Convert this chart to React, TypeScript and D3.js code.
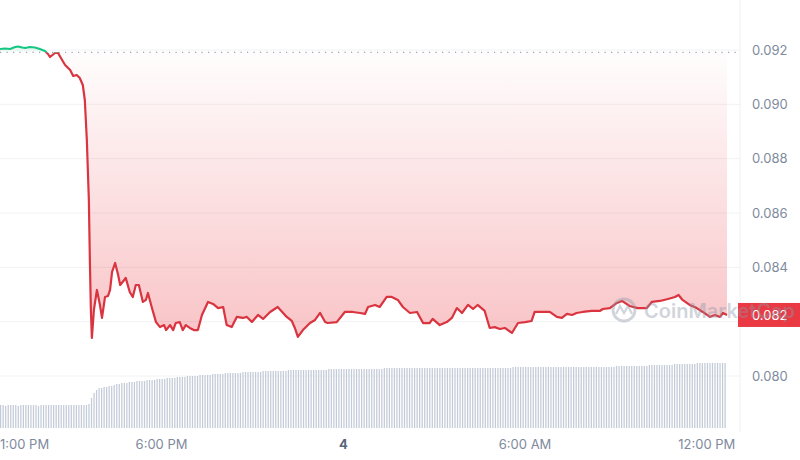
import React from "react";
import * as d3 from "d3";

// price points: [minutes since start, price]
const pricePoints: [number, number][] = [
  [0, 0.092037], [10, 0.092055], [20, 0.092037], [30, 0.09211], [36, 0.092129], [44, 0.092092],
  [50, 0.092074], [59, 0.09211], [69, 0.092092], [79, 0.092037], [89, 0.091963], [95, 0.091853],
  [99, 0.091742], [109, 0.09189], [115, 0.09189], [123, 0.091632], [129, 0.091448], [139, 0.091264],
  [145, 0.091043], [152, 0.09108], [158, 0.090969], [164, 0.090712], [168, 0.09016], [172, 0.088688],
  [176, 0.086479], [178, 0.084271], [180, 0.082431], [182, 0.0814], [186, 0.082431], [192, 0.083167],
  [198, 0.082615], [202, 0.082137], [208, 0.082909], [214, 0.082946], [218, 0.083167], [222, 0.08383],
  [228, 0.08416], [234, 0.08372], [238, 0.08335], [246, 0.083535], [249, 0.08361], [257, 0.083094],
  [263, 0.082909], [269, 0.08335], [275, 0.08335], [283, 0.082726], [289, 0.0828], [293, 0.083056],
  [301, 0.0825], [309, 0.081985], [317, 0.0818], [325, 0.081875], [329, 0.08169], [337, 0.081875],
  [343, 0.08169], [348, 0.08195], [356, 0.081985], [362, 0.08169], [368, 0.081875], [376, 0.081768],
  [384, 0.08169], [392, 0.08169], [400, 0.082247], [412, 0.082726], [422, 0.082652], [432, 0.0825],
  [442, 0.08254], [449, 0.081875], [459, 0.0818], [469, 0.082174], [481, 0.082137], [489, 0.082174],
  [499, 0.081985], [511, 0.082247], [521, 0.0821], [535, 0.082357], [550, 0.08254], [568, 0.082174],
  [578, 0.082026], [584, 0.081768], [590, 0.081437], [600, 0.08169], [614, 0.08195], [624, 0.082063],
  [634, 0.08232], [644, 0.081985], [649, 0.08195], [667, 0.081985], [683, 0.082357], [699, 0.082357],
  [713, 0.08232], [723, 0.082284], [729, 0.08254], [743, 0.082615], [752, 0.08254], [766, 0.082909],
  [776, 0.082909], [788, 0.0828], [798, 0.08254], [812, 0.08232], [826, 0.082357], [838, 0.08195],
  [851, 0.08195], [857, 0.0821], [871, 0.081875], [885, 0.081985], [895, 0.082137], [905, 0.0825],
  [915, 0.08232], [927, 0.082615], [937, 0.082467], [946, 0.082615], [960, 0.082394], [970, 0.081768],
  [980, 0.0818], [990, 0.08173], [1000, 0.081768], [1014, 0.081584], [1026, 0.08195], [1040, 0.081985],
  [1053, 0.082026], [1059, 0.082357], [1069, 0.082357], [1089, 0.082357], [1103, 0.082174], [1113, 0.082137],
  [1123, 0.082284], [1133, 0.082247], [1142, 0.08232], [1154, 0.082357], [1172, 0.082394], [1188, 0.082394],
  [1194, 0.082467], [1208, 0.0825], [1222, 0.082689], [1232, 0.082762], [1238, 0.082689], [1247, 0.082578],
  [1263, 0.0825], [1281, 0.0825], [1291, 0.082726], [1307, 0.082762], [1323, 0.082836], [1337, 0.082909],
  [1344, 0.082983], [1352, 0.0828], [1366, 0.082615], [1380, 0.0825], [1392, 0.082357], [1406, 0.082174],
  [1416, 0.082247], [1426, 0.082174], [1432, 0.08232], [1440, 0.082247],
];

// volume bars, one every 5 minutes
const volumes: number[] = [
  23, 23, 22, 23, 23, 23, 23, 22, 23, 23, 23, 23, 23, 23, 23, 22, 23, 23, 23, 23, 23, 23, 23, 23,
  23, 23, 23, 23, 23, 23, 23, 23, 23, 23, 23, 24, 30, 35, 38, 40, 40, 41, 41, 42, 42, 43, 44, 44,
  45, 45, 45, 46, 46, 46, 47, 47, 47, 47, 48, 48, 48, 48, 49, 49, 49, 49, 50, 50, 50, 50, 51, 51,
  51, 51, 52, 52, 52, 52, 52, 53, 53, 53, 53, 53, 54, 54, 54, 54, 54, 55, 55, 55, 55, 55, 55, 55,
  56, 56, 56, 56, 56, 56, 56, 56, 57, 57, 57, 57, 57, 57, 57, 57, 57, 57, 58, 58, 58, 58, 58, 58,
  58, 58, 58, 58, 58, 58, 58, 58, 58, 58, 59, 59, 59, 59, 59, 59, 59, 59, 59, 59, 59, 59, 59, 59,
  59, 59, 59, 59, 59, 59, 59, 59, 60, 60, 60, 60, 60, 60, 60, 60, 60, 60, 60, 60, 60, 60, 60, 60,
  60, 60, 60, 60, 60, 60, 60, 60, 60, 60, 60, 60, 60, 60, 60, 60, 60, 60, 60, 60, 60, 60, 60, 60,
  60, 60, 60, 60, 60, 60, 60, 60, 60, 60, 60, 61, 61, 61, 61, 61, 61, 61, 61, 61, 61, 61, 61, 61,
  61, 61, 61, 61, 61, 61, 61, 61, 61, 61, 61, 61, 61, 61, 61, 61, 61, 61, 61, 61, 61, 61, 61, 61,
  61, 61, 61, 61, 62, 62, 62, 62, 62, 62, 62, 62, 62, 62, 62, 62, 62, 63, 63, 63, 63, 63, 63, 63,
  63, 63, 63, 64, 64, 64, 64, 64, 64, 64, 64, 64, 65, 65, 65, 65, 65, 65, 65, 65, 65, 65, 65, 65,
];

const openPrice = 0.091915;
const yTicks = [0.08, 0.082, 0.084, 0.086, 0.088, 0.09, 0.092];
const xTickMinutes = [20, 320, 680, 1040, 1400];
const xTickLabels = ["1:00 PM", "6:00 PM", "4", "6:00 AM", "12:00 PM"];

const start = new Date(2024, 5, 3, 12, 40);
const toDate = (m: number) => new Date(start.getTime() + m * 60000);

const W = 800;
const H = 460;
const plotRight = 727;
const axisX = 740;
const RED = "#ea3943";
const LINE_RED = "#d9343f";
const GREEN = "#16c784";
const GRAY = "#808a9d";
const FONT = "Inter, 'Noto Sans', sans-serif";

export default function App() {
  const x = d3.scaleTime().domain([start, toDate(1440)]).range([0, plotRight]);
  const y = d3.scaleLinear().domain([0.08, 0.092]).range([376, 50]);
  const yVol = d3.scaleLinear().domain([0, 65]).range([428, 363]);

  const baseY = y(openPrice);
  const minY = y(d3.min(pricePoints, (d) => d[1]) as number);
  const last = pricePoints[pricePoints.length - 1][1];
  const tagY = y(last);

  const line = d3
    .line<[number, number]>()
    .x((d) => x(toDate(d[0])))
    .y((d) => y(d[1]));
  const area = d3
    .area<[number, number]>()
    .x((d) => x(toDate(d[0])))
    .y0(baseY)
    .y1((d) => y(d[1]));

  const barStep = plotRight / volumes.length;

  return (
    <svg
      width={W}
      height={H}
      style={{ position: "fixed", left: 0, top: 0, background: "#fff" }}
      fontFamily={FONT}
    >
      <defs>
        <clipPath id="below">
          <rect x={0} y={baseY} width={W} height={H - baseY} />
        </clipPath>
        <clipPath id="above">
          <rect x={0} y={0} width={W} height={baseY} />
        </clipPath>
        <linearGradient id="redFill" gradientUnits="userSpaceOnUse" x1={0} x2={0} y1={baseY} y2={minY}>
          <stop offset="0" stopColor={RED} stopOpacity={0.01} />
          <stop offset="1" stopColor={RED} stopOpacity={0.3} />
        </linearGradient>
        <linearGradient id="greenFill" gradientUnits="userSpaceOnUse" x1={0} x2={0} y1={baseY} y2={40}>
          <stop offset="0" stopColor={GREEN} stopOpacity={0.02} />
          <stop offset="1" stopColor={GREEN} stopOpacity={0.25} />
        </linearGradient>
      </defs>

      {/* grid */}
      {yTicks.map((t) => (
        <line key={t} x1={0} x2={axisX} y1={y(t)} y2={y(t)} stroke="#f1f2f4" strokeWidth={1} />
      ))}
      <line x1={axisX} x2={axisX} y1={0} y2={432} stroke="#eff1f4" strokeWidth={1} />

      {/* volume */}
      {volumes.map((v, i) => (
        <rect
          key={i}
          x={i * barStep}
          y={yVol(v)}
          width={barStep * 0.5}
          height={yVol(0) - yVol(v)}
          fill="#c4cbd8"
        />
      ))}

      {/* fill */}
      <path d={area(pricePoints) || ""} fill="url(#redFill)" clipPath="url(#below)" />
      <path d={area(pricePoints) || ""} fill="url(#greenFill)" clipPath="url(#above)" />

      {/* open price */}
      <line
        x1={0}
        x2={axisX}
        y1={baseY}
        y2={baseY}
        stroke="#9aa2b1"
        strokeWidth={1.2}
        strokeDasharray="1.2,5.3"
      />

      {/* price line */}
      <path d={line(pricePoints) || ""} fill="none" stroke={LINE_RED} strokeWidth={2.2} strokeLinejoin="round" clipPath="url(#below)" />
      <path d={line(pricePoints) || ""} fill="none" stroke={GREEN} strokeWidth={2.2} strokeLinejoin="round" clipPath="url(#above)" />

      {/* y axis (label hidden under the price tag is skipped) */}
      {yTicks
        .filter((t) => Math.abs(y(t) - tagY) > 14)
        .map((t) => (
          <text key={t} x={752} y={y(t)} dy="0.35em" fontSize={13} fill={GRAY}>
            {d3.format(".3f")(t)}
          </text>
        ))}

      {/* current price tag */}
      <rect x={axisX - 2} y={tagY - 12} width={W - axisX + 2} height={24} fill={RED} />
      <text x={752} y={tagY} dy="0.35em" fontSize={13} fill="#fff">
        {d3.format(".3f")(last)}
      </text>

      {/* x axis */}
      {xTickMinutes.map((m, i) => (
        <text
          key={m}
          x={i === 0 ? 0 : x(toDate(m))}
          y={449}
          fontSize={13}
          textAnchor={i === 0 ? "start" : "middle"}
          fill={xTickLabels[i] === "4" ? "#58667e" : GRAY}
          fontWeight={xTickLabels[i] === "4" ? 700 : 400}
        >
          {xTickLabels[i]}
        </text>
      ))}

      {/* watermark */}
      <g opacity={0.4}>
        <circle cx={624} cy={310} r={11} fill="none" stroke="#8e97a8" strokeWidth={3} />
        <path d="M616,314 L620,306 L624,313 L628,306 L632,314" fill="none" stroke="#8e97a8" strokeWidth={2.2} />
        <text x={644} y={318} fontSize={20} fontWeight={600} fill="#8e97a8">
          CoinMarketCap
        </text>
      </g>
    </svg>
  );
}
